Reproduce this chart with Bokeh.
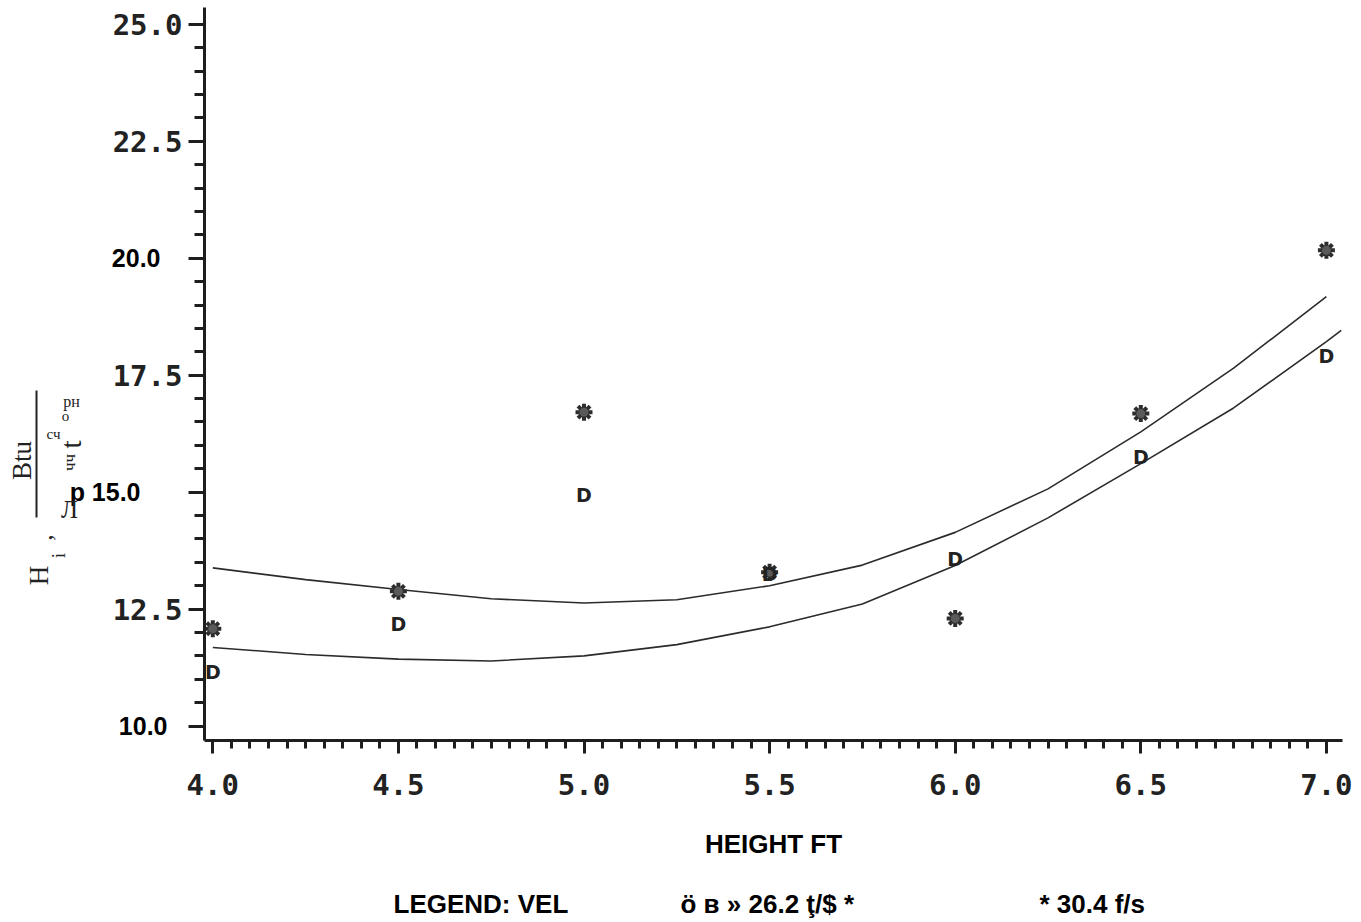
from bokeh.plotting import figure
from bokeh.models import Range1d, FixedTicker, Label, BoxAnnotation, ColumnDataSource
from bokeh.core.properties import value
from bokeh.embed import file_html
from bokeh.resources import INLINE
import math

# ---------------- data ----------------
height_ft = [4.0, 4.5, 5.0, 5.5, 6.0, 6.5, 7.0]
h_star_304 = [12.08, 12.88, 16.71, 13.29, 12.30, 16.68, 20.17]   # * 30.4 f/s
h_d_262 = [11.15, 12.19, 14.93, 13.25, 13.56, 15.75, 17.92]       # D 26.2 f/s

curve_upper_x = [4.0, 4.25, 4.5, 4.75, 5.0, 5.25, 5.5, 5.75, 6.0, 6.25, 6.5, 6.75, 7.0]
curve_upper_y = [13.38, 13.13, 12.92, 12.72, 12.63, 12.70, 13.00, 13.44, 14.14, 15.07, 16.29, 17.65, 19.18]
curve_lower_x = [4.0, 4.25, 4.5, 4.75, 5.0, 5.25, 5.5, 5.75, 6.0, 6.25, 6.5, 6.75, 7.0, 7.04]
curve_lower_y = [11.68, 11.53, 11.43, 11.39, 11.50, 11.74, 12.12, 12.61, 13.43, 14.45, 15.61, 16.80, 18.22, 18.46]

x_tick_values = [4.0, 4.5, 5.0, 5.5, 6.0, 6.5, 7.0]
x_tick_labels = ["4.0", "4.5", "5.0", "5.5", "6.0", "6.5", "7.0"]
y_tick_values = [10.0, 12.5, 15.0, 17.5, 20.0, 22.5, 25.0]
y_tick_labels_mono = ["", "12.5", "", "17.5", "", "22.5", "25.0"]
y_tick_labels_sans = {10.0: "10.0", 15.0: "p 15.0", 20.0: "20.0"}

x_axis_title = "HEIGHT FT"
legend_parts = ["LEGEND: VEL", "ö в » 26.2 ţ/$ *", "* 30.4 f/s"]

# ---------------- figure: frame = whole page, axes at fixed locations ----------------
W, H = 1361, 922
X0, X1 = 3.42806, 7.09456     # data x at page x = 0 and 1361
Y0, Y1 = 5.7986, 25.5121      # data y at page y = 922 and 0
AX_X, AX_Y = 3.9776, 9.69     # where the two axis lines sit
p = figure(width=W, height=H, output_backend="svg", toolbar_location=None,
           x_range=Range1d(X0, X1), y_range=Range1d(Y0, Y1),
           min_border=0, min_border_left=0, min_border_right=0,
           min_border_top=0, min_border_bottom=0)
p.outline_line_color = None
p.grid.visible = False
p.background_fill_color = "white"
p.border_fill_color = "white"

ink = "#1e1e1e"
mono = "DejaVu Sans Mono"

# x axis
xa = p.xaxis[0]
xa.fixed_location = AX_Y
xa.bounds = (AX_X, 7.0434)
xa.ticker = FixedTicker(ticks=x_tick_values,
                        minor_ticks=[round(4.0 + 0.05 * i, 2) for i in range(61)])
xa.major_label_overrides = dict(zip(x_tick_values, x_tick_labels))
xa.axis_line_width = 3
xa.axis_line_color = ink
xa.major_tick_line_width = 3
xa.minor_tick_line_width = 3
xa.major_tick_line_color = ink
xa.minor_tick_line_color = ink
xa.major_tick_in = 0
xa.minor_tick_in = 0
xa.major_tick_out = 13
xa.minor_tick_out = 8
xa.major_label_standoff = 21
xa.major_label_text_font = mono
xa.major_label_text_font_style = "bold"
xa.major_label_text_font_size = "29px"
xa.major_label_text_color = "#222222"
xa.axis_label = x_axis_title
xa.axis_label_text_font = "Liberation Sans"
xa.axis_label_text_font_style = "bold"
xa.axis_label_text_font_size = "26px"
xa.axis_label_text_color = "black"
xa.axis_label_standoff = 30

# y axis
ya = p.yaxis[0]
ya.fixed_location = AX_X
ya.bounds = (AX_Y, 25.36)
ya.ticker = FixedTicker(ticks=y_tick_values,
                        minor_ticks=[10.0 + 0.5 * i for i in range(31)])
ya.major_label_overrides = dict(zip(y_tick_values, y_tick_labels_mono))
ya.axis_line_width = 3
ya.axis_line_color = ink
ya.major_tick_line_width = 3
ya.minor_tick_line_width = 3
ya.major_tick_line_color = ink
ya.minor_tick_line_color = ink
ya.major_tick_in = 0
ya.minor_tick_in = 0
ya.major_tick_out = 16
ya.minor_tick_out = 10
ya.major_label_standoff = 6
ya.major_label_text_font = mono
ya.major_label_text_font_style = "bold"
ya.major_label_text_font_size = "29px"
ya.major_label_text_color = "#222222"

# sans-serif y tick labels (re-typed ones in the scan)
right_edges = {10.0: 167, 15.0: 140, 20.0: 160}
for yv, txt in y_tick_labels_sans.items():
    p.add_layout(Label(x=right_edges[yv], y=yv, x_units="screen", y_units="data", text=txt,
                       text_align="right", text_baseline="middle",
                       text_font="Liberation Sans", text_font_style="bold",
                       text_font_size="25px", text_color="black"))

# ---------------- curves and points ----------------
p.line(curve_upper_x, curve_upper_y, line_color="#2b2b2b", line_width=1.6)
p.line(curve_lower_x, curve_lower_y, line_color="#2b2b2b", line_width=1.6)

src_s = ColumnDataSource(dict(x=height_ft, y=h_star_304))
p.scatter("x", "y", source=src_s, marker="asterisk", size=17, line_width=4, line_color="#2d2d2d")
p.scatter("x", "y", source=src_s, marker="circle", size=9, fill_color="#5a5a5a", line_color=None)

src_d = ColumnDataSource(dict(x=height_ft, y=h_d_262, t=["D"] * len(height_ft)))
p.text("x", "y", text="t", source=src_d, text_align="center", text_baseline="middle",
       text_font=value("DejaVu Sans"), text_font_style="bold", text_font_size="19px",
       text_color="#222222")


# ---------------- y axis title (scanned / OCR'd) ----------------
def lab(txt, cx, cy, size, font="Liberation Serif", angle=0.0, align="center",
        baseline="middle", style="normal", color="#222222"):
    p.add_layout(Label(x=cx, y=H - cy, x_units="screen", y_units="screen", text=txt,
                       angle=angle, text_align=align, text_baseline=baseline,
                       text_font=font, text_font_style=style, text_font_size=size,
                       text_color=color))


R = math.pi / 2
lab("H", 38, 575, "27px", angle=R, baseline="alphabetic")
lab("i", 58, 555, "19px", angle=R, baseline="alphabetic")
lab(",", 43, 537, "26px", angle=R, baseline="alphabetic")
lab("Btu", 21, 460, "27px", angle=R, baseline="alphabetic")
p.add_layout(BoxAnnotation(left=35, right=37, bottom=H - 517, top=H - 390,
                           left_units="screen", right_units="screen",
                           bottom_units="screen", top_units="screen",
                           fill_color="#222222", fill_alpha=1.0, line_color=None))
lab("Л", 69, 509, "25px")
lab("чч", 69, 462, "17px", angle=R)
lab("t", 70, 444, "29px", angle=R)
lab("сч", 53, 433, "15px")
lab("o", 65, 415, "15px")
lab("рн", 71, 401, "16px")

# ---------------- legend line ----------------
lab(legend_parts[0], 393, 903, "26px", font="Liberation Sans", align="left", style="bold", color="black")
lab(legend_parts[1], 680, 903, "26px", font="Liberation Sans", align="left", style="bold", color="black")
lab(legend_parts[2], 1039, 903, "26px", font="Liberation Sans", align="left", style="bold", color="black")

open("out.html", "w").write(file_html(p, INLINE))
